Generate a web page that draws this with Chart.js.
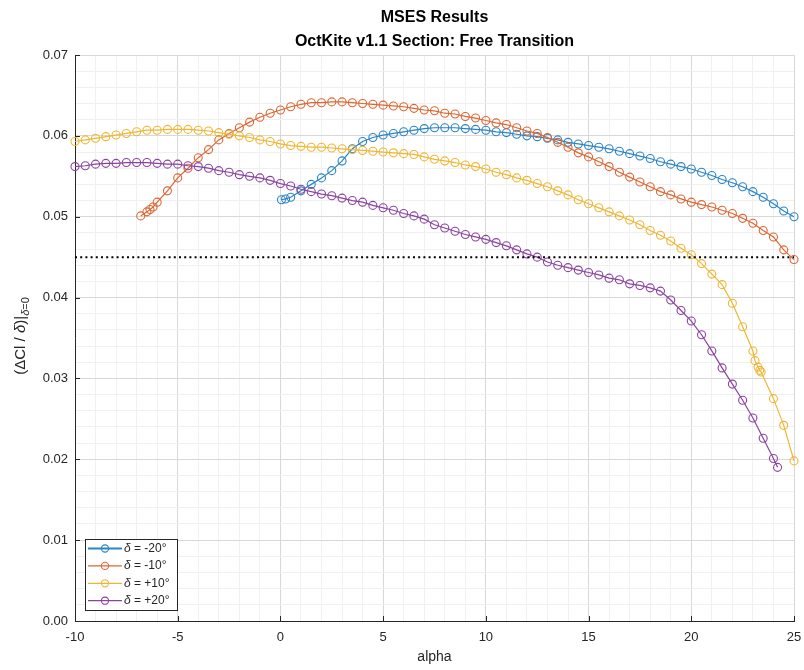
<!DOCTYPE html>
<html>
<head>
<meta charset="utf-8">
<script src="https://cdn.jsdelivr.net/npm/chart.js@4/dist/chart.umd.min.js"></script>
<style>
  html, body { margin: 0; padding: 0; background: #ffffff; }
  #c { display: block; }
</style>
</head>
<body>
<canvas id="c" width="804" height="670"></canvas>
<script>
// ---- Data: sectional lift-effectiveness vs angle of attack (MSES runs) ----
const alphaM20 = [0.05,0.25,0.5,1,1.5,2,2.5,3,3.5,4,4.5,5,5.5,6,6.5,7,7.5,8,8.5,9,9.5,10,10.5,11,11.5,12,12.5,13,13.5,14,14.5,15,15.5,16,16.5,17,17.5,18,18.5,19,19.5,20,20.5,21,21.5,22,22.5,23,23.5,24,24.5,25];
const valM20 = [0.0521,0.0522,0.0524,0.0532,0.0540,0.0548,0.0557,0.0569,0.0584,0.0593,0.0598,0.0601,0.0603,0.0605,0.0607,0.0609,0.0610,0.0610,0.0610,0.0609,0.0608,0.0607,0.0605,0.0604,0.0602,0.0600,0.0599,0.0597,0.0595,0.0592,0.0590,0.0588,0.0586,0.0584,0.0581,0.0578,0.0575,0.0572,0.0568,0.0565,0.0562,0.0559,0.0555,0.0551,0.0546,0.0542,0.0537,0.0531,0.0524,0.0516,0.0507,0.0500];

const alphaM10 = [-6.8,-6.5,-6.35,-6.2,-6,-5.5,-5,-4.5,-4,-3.5,-3,-2.5,-2,-1.5,-1,-0.5,0,0.5,1,1.5,2,2.5,3,3.5,4,4.5,5,5.5,6,6.5,7,7.5,8,8.5,9,9.5,10,10.5,11,11.5,12,12.5,13,13.5,14,14.5,15,15.5,16,16.5,17,17.5,18,18.5,19,19.5,20,20.5,21,21.5,22,22.5,23,23.5,24,24.5,25];
const valM10 = [0.0501,0.0506,0.0509,0.0512,0.0518,0.0532,0.0548,0.0560,0.0573,0.0583,0.0595,0.0603,0.0610,0.0617,0.0623,0.0628,0.0632,0.0636,0.0639,0.0641,0.0641,0.0642,0.0642,0.0641,0.0640,0.0639,0.0638,0.0637,0.0636,0.0634,0.0632,0.0631,0.0628,0.0627,0.0624,0.0622,0.0619,0.0616,0.0614,0.0610,0.0606,0.0603,0.0598,0.0592,0.0586,0.0579,0.0574,0.0568,0.0562,0.0555,0.0549,0.0543,0.0537,0.0531,0.0527,0.0522,0.0518,0.0515,0.0512,0.0508,0.0504,0.0498,0.0492,0.0483,0.0475,0.0459,0.0447];

const alphaP10 = [-10,-9.5,-9,-8.5,-8,-7.5,-7,-6.5,-6,-5.5,-5,-4.5,-4,-3.5,-3,-2.5,-2,-1.5,-1,-0.5,0,0.5,1,1.5,2,2.5,3,3.5,4,4.5,5,5.5,6,6.5,7,7.5,8,8.5,9,9.5,10,10.5,11,11.5,12,12.5,13,13.5,14,14.5,15,15.5,16,16.5,17,17.5,18,18.5,19,19.5,20,20.5,21,21.5,22,22.5,23,23.1,23.25,23.33,23.4,24,24.5,25];
const valP10 = [0.0593,0.0595,0.0597,0.0599,0.0601,0.0603,0.0605,0.0607,0.0607,0.0608,0.0608,0.0608,0.0607,0.0606,0.0604,0.0602,0.0600,0.0598,0.0595,0.0593,0.0590,0.0588,0.0587,0.0586,0.0586,0.0585,0.0584,0.0583,0.0582,0.0581,0.0580,0.0579,0.0578,0.0577,0.0574,0.0571,0.0569,0.0567,0.0564,0.0562,0.0559,0.0555,0.0552,0.0548,0.0545,0.0541,0.0537,0.0532,0.0527,0.0521,0.0516,0.0511,0.0506,0.0501,0.0496,0.0490,0.0483,0.0477,0.0470,0.0461,0.0453,0.0442,0.0429,0.0416,0.0393,0.0364,0.0334,0.0322,0.0314,0.0310,0.0308,0.0275,0.0242,0.0198];

const alphaP20 = [-10,-9.5,-9,-8.5,-8,-7.5,-7,-6.5,-6,-5.5,-5,-4.5,-4,-3.5,-3,-2.5,-2,-1.5,-1,-0.5,0,0.5,1,1.5,2,2.5,3,3.5,4,4.5,5,5.5,6,6.5,7,7.5,8,8.5,9,9.5,10,10.5,11,11.5,12,12.5,13,13.5,14,14.5,15,15.5,16,16.5,17,17.5,18,18.5,19,19.5,20,20.5,21,21.5,22,22.5,23,23.5,24,24.2];
const valP20 = [0.0562,0.0563,0.0565,0.0566,0.0566,0.0567,0.0567,0.0567,0.0566,0.0565,0.0565,0.0563,0.0562,0.0560,0.0557,0.0555,0.0552,0.0550,0.0548,0.0545,0.0541,0.0538,0.0534,0.0531,0.0528,0.0526,0.0523,0.0520,0.0518,0.0514,0.0511,0.0508,0.0504,0.0501,0.0497,0.0490,0.0486,0.0482,0.0478,0.0475,0.0472,0.0468,0.0464,0.0459,0.0454,0.0450,0.0444,0.0440,0.0437,0.0434,0.0431,0.0428,0.0424,0.0422,0.0417,0.0415,0.0412,0.0408,0.0397,0.0384,0.0371,0.0354,0.0334,0.0313,0.0293,0.0273,0.0251,0.0226,0.0201,0.0190];

const seriesLabels = ['-20°', '-10°', '+10°', '+20°'];
const seriesColors = ['#2a84c6', '#de6633', '#efb634', '#8a44a0'];
const refLevel = 0.045;
const xRange = [-10, 25];
const yRange = [0, 0.07];
const xTickLabels = [-10, -5, 0, 5, 10, 15, 20, 25];
const yTickLabels = ['0.00', '0.01', '0.02', '0.03', '0.04', '0.05', '0.06', '0.07'];

const FONT = '"Liberation Sans", Arial, Helvetica, sans-serif';
const INK = '#262626';

function pairs(xs, ys) { return xs.map((x, i) => ({ x: x, y: ys[i] })); }

const curves = [[alphaM20, valM20], [alphaM10, valM10], [alphaP10, valP10], [alphaP20, valP20]];

const datasets = curves.map((c, i) => ({
  label: 'δ = ' + seriesLabels[i],
  data: pairs(c[0], c[1]),
  borderColor: seriesColors[i],
  backgroundColor: seriesColors[i],
  borderWidth: 1.2,
  pointStyle: 'circle',
  pointRadius: 4,
  pointHoverRadius: 4,
  pointBorderWidth: 1.1,
  pointBorderColor: seriesColors[i],
  pointBackgroundColor: 'rgba(255,255,255,0)',
  tension: 0,
  clip: false,
  order: 4 - i
}));

datasets.push({
  label: 'ref',
  data: pairs(xRange, [refLevel, refLevel]),
  borderColor: '#000000',
  borderWidth: 2,
  borderDash: [2, 3.2],
  pointRadius: 0,
  tension: 0,
  order: 0
});

function isMajorY(v) { const r = Math.round(v * 1000); return Math.abs(v * 1000 - r) < 1e-6 && r % 10 === 0; }
function isMajorX(v) { return Math.abs(v % 5) < 1e-9; }

// Figure title, y-axis label with subscript, inset legend, inward ticks
const decorations = {
  id: 'decorations',
  afterDraw(chart) {
    const ctx = chart.ctx;
    const area = chart.chartArea;
    const cx = (area.left + area.right) / 2;
    ctx.save();

    // inward tick marks on the left and bottom axes
    ctx.strokeStyle = INK;
    ctx.lineWidth = 1;
    const xs = chart.scales.x, ys = chart.scales.y;
    xTickLabels.forEach(v => {
      const px = Math.round(xs.getPixelForValue(v)) + 0.5;
      ctx.beginPath(); ctx.moveTo(px, area.bottom); ctx.lineTo(px, area.bottom - 5); ctx.stroke();
    });
    yTickLabels.forEach(t => {
      const py = Math.round(ys.getPixelForValue(parseFloat(t))) + 0.5;
      ctx.beginPath(); ctx.moveTo(area.left, py); ctx.lineTo(area.left + 5, py); ctx.stroke();
    });

    // title
    ctx.fillStyle = '#000000';
    ctx.textAlign = 'center';
    ctx.textBaseline = 'middle';
    ctx.font = 'bold 16px ' + FONT;
    ctx.fillText('MSES Results', cx, 18);
    ctx.fillText('OctKite v1.1 Section: Free Transition', cx, 42);

    // y-axis label: (ΔCl / δ)|δ=0
    const parts = [
      { t: '(ΔCl / ', f: '15px ' + FONT, dy: 0 },
      { t: 'δ', f: 'italic 15px ' + FONT, dy: 0 },
      { t: ')|', f: '15px ' + FONT, dy: 0 },
      { t: 'δ', f: 'italic 11px ' + FONT, dy: 5 },
      { t: '=0', f: '11px ' + FONT, dy: 5 }
    ];
    let total = 0;
    parts.forEach(p => { ctx.font = p.f; p.w = ctx.measureText(p.t).width; total += p.w; });
    ctx.translate(21, (area.top + area.bottom) / 2 - 2);
    ctx.rotate(-Math.PI / 2);
    ctx.fillStyle = INK;
    ctx.textAlign = 'left';
    ctx.textBaseline = 'middle';
    let x0 = -total / 2;
    parts.forEach(p => { ctx.font = p.f; ctx.fillText(p.t, x0, p.dy); x0 += p.w; });
    ctx.setTransform(1, 0, 0, 1, 0, 0);

    // inset legend
    const bx = 85.5, by = 539.5, bw = 92, bh = 71;
    ctx.fillStyle = '#ffffff';
    ctx.fillRect(bx, by, bw, bh);
    ctx.strokeStyle = INK;
    ctx.lineWidth = 1;
    ctx.strokeRect(bx, by, bw, bh);
    seriesLabels.forEach((lab, i) => {
      const yy = 548.5 + i * 17.4;
      ctx.strokeStyle = seriesColors[i];
      ctx.lineWidth = i === 0 ? 2 : 1.2;
      ctx.beginPath(); ctx.moveTo(88, yy); ctx.lineTo(122, yy); ctx.stroke();
      ctx.lineWidth = 1.1;
      ctx.beginPath(); ctx.arc(105, yy, 3.6, 0, Math.PI * 2); ctx.stroke();
      ctx.fillStyle = INK;
      ctx.textAlign = 'left';
      ctx.textBaseline = 'middle';
      ctx.font = 'italic 12px ' + FONT;
      ctx.fillText('δ', 124, yy);
      const w = ctx.measureText('δ').width;
      ctx.font = '12px ' + FONT;
      ctx.fillText(' = ' + lab, 124 + w, yy);
    });
    ctx.restore();
  }
};

new Chart(document.getElementById('c'), {
  type: 'line',
  data: { datasets: datasets },
  options: {
    responsive: false,
    animation: false,
    events: [],
    layout: { padding: { left: 0, right: 0, top: 55, bottom: 0 } },
    plugins: {
      legend: { display: false },
      title: { display: false },
      tooltip: { enabled: false }
    },
    scales: {
      x: {
        type: 'linear',
        min: xRange[0],
        max: xRange[1],
        afterFit(scale) { scale.height = 49; scale.paddingRight = 10; scale.paddingLeft = 0; },
        ticks: {
          stepSize: 1,
          autoSkip: false,
          maxRotation: 0,
          padding: 9,
          color: INK,
          font: { family: FONT, size: 13 },
          callback: v => (isMajorX(v) ? String(v) : '')
        },
        grid: {
          drawTicks: false,
          lineWidth: 1,
          color: c => (c.tick && isMajorX(c.tick.value) ? '#d8d8d8' : '#f0f0f0')
        },
        border: { display: true, color: INK, width: 1 },
        title: { display: true, text: 'alpha', color: INK, font: { family: FONT, size: 14 }, padding: { top: 4, bottom: 4 } }
      },
      y: {
        type: 'linear',
        min: yRange[0],
        max: yRange[1],
        afterFit(scale) { scale.width = 75; },
        ticks: {
          stepSize: 0.002,
          autoSkip: false,
          padding: 7,
          color: INK,
          font: { family: FONT, size: 13 },
          callback: v => (isMajorY(v) ? v.toFixed(2) : '')
        },
        grid: {
          drawTicks: false,
          lineWidth: 1,
          color: c => (c.tick && isMajorY(c.tick.value) ? '#d8d8d8' : '#f0f0f0')
        },
        border: { display: true, color: INK, width: 1 }
      }
    }
  },
  plugins: [decorations]
});
</script>
</body>
</html>
